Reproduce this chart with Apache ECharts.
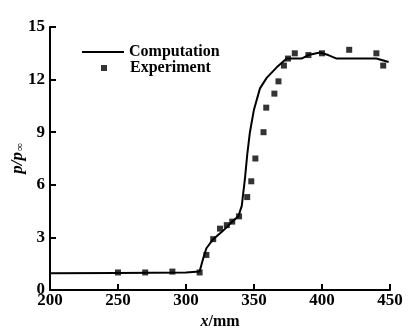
<!DOCTYPE html>
<html>
<head>
<meta charset="utf-8">
<script src="https://cdn.jsdelivr.net/npm/echarts@6/dist/echarts.min.js"></script>
<style>
  html, body { margin: 0; padding: 0; background: #fff; }
  #chart { width: 408px; height: 331px; }
</style>
</head>
<body>
<div id="chart"></div>
<script>
// computed pressure ratio along x (mm)
var compX = [200, 250, 300, 310, 313, 315, 320, 327, 334, 338.5, 341, 343.4, 345, 347, 350, 354.4, 359.3, 366.7, 374, 379, 385, 390, 398.5, 404.6, 410.8, 425, 440, 449];
var compY = [0.95, 0.97, 1.0, 1.05, 1.9, 2.38, 2.9, 3.36, 3.9, 4.2, 4.8, 6.4, 7.7, 9.0, 10.3, 11.5, 12.1, 12.7, 13.2, 13.2, 13.2, 13.4, 13.55, 13.4, 13.2, 13.2, 13.2, 13.0];

// measured points
var expX = [250, 270, 290, 310, 315, 320, 325, 330, 334, 339, 345, 348, 351, 357, 359, 365, 368, 372, 375, 380, 390, 400, 420, 440, 445];
var expY = [1.0, 1.0, 1.05, 1.0, 2.0, 2.9, 3.5, 3.7, 3.9, 4.2, 5.3, 6.2, 7.5, 9.0, 10.4, 11.2, 11.9, 12.8, 13.2, 13.5, 13.4, 13.5, 13.7, 13.5, 12.8];

var xTicks = [200, 250, 300, 350, 400, 450];
var yTicks = [0, 3, 6, 9, 12, 15];

function pairs(xs, ys) {
    var out = [];
    for (var i = 0; i < xs.length; i++) out.push([xs[i], ys[i]]);
    return out;
}

var font = 'Liberation Serif';
var chart = echarts.init(document.getElementById('chart'));
var option = {
    animation: false,
    grid: { left: 50, right: 18, top: 27, bottom: 41, containLabel: false, outerBoundsMode: 'none' },
    legend: [
        {
            data: [{ name: 'Computation', icon: 'rect' }],
            left: 82, top: 44, padding: 0,
            itemWidth: 42, itemHeight: 2, itemGap: 0,
            textStyle: { fontFamily: font, fontWeight: 'bold', fontSize: 16, color: '#000' }
        },
        {
            data: ['Experiment'],
            left: 101, top: 60, padding: 0,
            itemWidth: 6, itemHeight: 6, itemGap: 0,
            textStyle: { fontFamily: font, fontWeight: 'bold', fontSize: 16, color: '#000', padding: [0, 0, 0, 18] }
        }
    ],
    xAxis: {
        type: 'value',
        min: xTicks[0], max: xTicks[xTicks.length - 1], interval: 50,
        name: '{i|x}{n|/mm}',
        nameLocation: 'middle', nameGap: 24, nameMoveOverlap: false,
        nameTextStyle: {
            rich: {
                i: { fontFamily: font, fontStyle: 'italic', fontWeight: 'bold', fontSize: 16, color: '#000' },
                n: { fontFamily: font, fontWeight: 'bold', fontSize: 16, color: '#000' }
            }
        },
        splitLine: { show: false },
        axisLine: { lineStyle: { color: '#000', width: 2 } },
        axisTick: { inside: true, length: 6, lineStyle: { color: '#000', width: 2 } },
        axisLabel: { fontFamily: font, fontWeight: 'bold', fontSize: 17, color: '#000', margin: 2 }
    },
    yAxis: {
        type: 'value',
        min: yTicks[0], max: yTicks[yTicks.length - 1], interval: 3,
        name: '{i|p/p}{s|∞}',
        nameLocation: 'middle', nameGap: 24, nameRotate: 90, nameMoveOverlap: false,
        nameTextStyle: {
            rich: {
                i: { fontFamily: font, fontStyle: 'italic', fontWeight: 'bold', fontSize: 17, color: '#000' },
                s: { fontFamily: font, fontWeight: 'bold', fontSize: 11, color: '#000', verticalAlign: 'bottom', padding: [6, 0, 0, 1] }
            }
        },
        splitLine: { show: false },
        axisLine: { show: true, lineStyle: { color: '#000', width: 2 } },
        axisTick: { show: true, inside: true, length: 6, lineStyle: { color: '#000', width: 2 } },
        axisLabel: { fontFamily: font, fontWeight: 'bold', fontSize: 17, color: '#000', margin: 5 }
    },
    series: [
        {
            name: 'Computation',
            type: 'line',
            data: pairs(compX, compY),
            symbol: 'none',
            lineStyle: { color: '#000', width: 2 },
            itemStyle: { color: '#000' }
        },
        {
            name: 'Experiment',
            type: 'scatter',
            data: pairs(expX, expY),
            symbol: 'rect',
            symbolSize: 6,
            itemStyle: { color: '#000' }
        }
    ]
};
chart.setOption(option);
</script>
</body>
</html>
